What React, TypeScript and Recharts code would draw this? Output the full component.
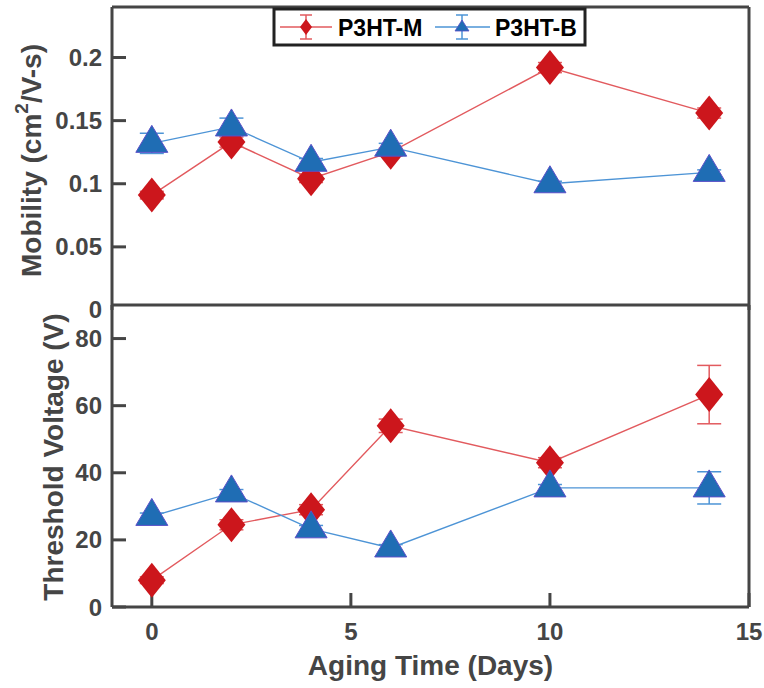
import { ComposedChart, Line, XAxis, YAxis, ErrorBar } from "recharts";

const days = [0, 2, 4, 6, 10, 14];
const mobilityM = [0.091, 0.133, 0.104, 0.125, 0.192, 0.156];
const mobilityMErr = [0.003, 0.004, 0.003, 0.003, 0.004, 0.004];
const mobilityB = [0.132, 0.145, 0.117, 0.129, 0.1, 0.109];
const mobilityBErr = [0.008, 0.007, 0.003, 0.003, 0.002, 0.002];
const vthM = [8, 24.5, 29, 54, 43, 63.3];
const vthMErr = [1, 1.5, 1.5, 2, 1.5, 8.7];
const vthB = [27, 34, 23.3, 17.6, 35.5, 35.5];
const vthBErr = [1, 1, 1, 1, 1, 4.8];

const xTicks = [0, 5, 10, 15];
const mobilityTicks = [0, 0.05, 0.1, 0.15, 0.2];
const vthTicks = [0, 20, 40, 60, 80];

const topData = days.map((d, i) => ({
  day: d,
  m: mobilityM[i],
  mErr: mobilityMErr[i],
  b: mobilityB[i],
  bErr: mobilityBErr[i],
}));
const bottomData = days.map((d, i) => ({
  day: d,
  m: vthM[i],
  mErr: vthMErr[i],
  b: vthB[i],
  bErr: vthBErr[i],
}));

const FONT = "'Liberation Sans', Arial, sans-serif";
const AXIS = "#454545";
const RED = "#cc161c";
const RED_LINE = "#e25a5e";
const BLUE = "#1f6db4";
const BLUE_LINE = "#4d94d6";
const tickStyle = { fill: "#454545", fontSize: 24, fontWeight: 700, fontFamily: FONT };

const diamond = (props: any) => {
  const { cx, cy, index } = props;
  if (cx == null || cy == null) return <g key={`d${index}`} />;
  return (
    <path
      key={`d${index}`}
      d={`M${cx},${cy - 17.5}L${cx + 14},${cy}L${cx},${cy + 17.5}L${cx - 14},${cy}Z`}
      fill={RED}
    />
  );
};

const triangle = (props: any) => {
  const { cx, cy, index } = props;
  if (cx == null || cy == null) return <g key={`t${index}`} />;
  return (
    <path
      key={`t${index}`}
      d={`M${cx},${cy - 18}L${cx + 16},${cy + 9}L${cx - 16},${cy + 9}Z`}
      fill={BLUE}
      stroke="#5a4fc8"
      strokeWidth={1}
    />
  );
};

// left tick of the top panel: no tick mark at 0 (hidden under lower panel)
const MobilityTick = (props: any) => {
  const { x, y, payload } = props;
  const v = payload.value;
  return (
    <g>
      {v !== 0 && <line x1={x + 10} x2={x + 24} y1={y} y2={y} stroke={AXIS} strokeWidth={3} />}
      <text x={x} y={y} dy={8} textAnchor="end" {...tickStyle}>
        {v === 0 ? "0" : String(v)}
      </text>
    </g>
  );
};

const MobilityLabel = (props: any) => {
  const { viewBox } = props;
  const cy = viewBox.y + viewBox.height / 2 + 2;
  const cx = 31;
  return (
    <text
      x={cx}
      y={cy}
      transform={`rotate(-90 ${cx} ${cy})`}
      textAnchor="middle"
      dominantBaseline="central"
      fill="#454545"
      fontSize={28}
      fontWeight={700}
      fontFamily={FONT}
    >
      Mobility (cm<tspan fontSize={19} dy={-10}>2</tspan>
      <tspan dy={10}>/V-s)</tspan>
    </text>
  );
};

const VthLabel = (props: any) => {
  const { viewBox } = props;
  const cy = viewBox.y + viewBox.height / 2 + 1;
  const cx = 53;
  return (
    <text
      x={cx}
      y={cy}
      transform={`rotate(-90 ${cx} ${cy})`}
      textAnchor="middle"
      dominantBaseline="central"
      fill="#454545"
      fontSize={28}
      fontWeight={700}
      fontFamily={FONT}
    >
      Threshold Voltage (V)
    </text>
  );
};

function Legend() {
  return (
    <svg
      width={764}
      height={60}
      style={{ position: "absolute", left: 0, top: 0, pointerEvents: "none" }}
    >
      <rect x={274} y={9} width={311} height={36} fill="#fff" stroke="#222" strokeWidth={3} />
      <line x1={280} x2={332} y1={27} y2={27} stroke={RED_LINE} strokeWidth={1.5} />
      <line x1={306} x2={306} y1={15} y2={39} stroke={RED_LINE} strokeWidth={1.5} />
      <line x1={300} x2={312} y1={15} y2={15} stroke={RED_LINE} strokeWidth={1.5} />
      <line x1={300} x2={312} y1={39} y2={39} stroke={RED_LINE} strokeWidth={1.5} />
      <path d="M306,19L312,27L306,35L300,27Z" fill={RED} />
      <text x={338} y={36} fontSize={23} fontWeight={700} fontFamily={FONT} fill="#000">
        P3HT-M
      </text>
      <line x1={435} x2={490} y1={27} y2={27} stroke={BLUE_LINE} strokeWidth={1.5} />
      <line x1={462} x2={462} y1={15} y2={39} stroke={BLUE_LINE} strokeWidth={1.5} />
      <line x1={456} x2={468} y1={15} y2={15} stroke={BLUE_LINE} strokeWidth={1.5} />
      <line x1={456} x2={468} y1={39} y2={39} stroke={BLUE_LINE} strokeWidth={1.5} />
      <path d="M462,20L469,31L455,31Z" fill={BLUE} stroke="#5a4fc8" strokeWidth={0.8} />
      <text x={495} y={36} fontSize={23} fontWeight={700} fontFamily={FONT} fill="#000">
        P3HT-B
      </text>
    </svg>
  );
}

export default function App() {
  return (
    <div
      style={{
        position: "absolute",
        left: 0,
        top: 0,
        width: 764,
        height: 688,
        background: "#fff",
        overflow: "hidden",
      }}
    >
      <div style={{ position: "absolute", left: 0, top: 0 }}>
        <ComposedChart
          width={764}
          height={330}
          data={topData}
          margin={{ top: 6, right: 14, bottom: 20, left: 0 }}
        >
          <XAxis
            xAxisId="t"
            orientation="top"
            type="number"
            dataKey="day"
            domain={[-1, 15]}
            ticks={xTicks}
            allowDataOverflow
            height={1}
            tick={false}
            tickLine={false}
            stroke={AXIS}
            axisLine={{ strokeWidth: 3 }}
          />
          <YAxis
            yAxisId="l"
            type="number"
            domain={[0, 0.24]}
            ticks={mobilityTicks}
            allowDataOverflow
            width={112}
            tickSize={-14}
            tickMargin={24}
            tickLine={false}
            tick={<MobilityTick />}
            stroke={AXIS}
            axisLine={{ strokeWidth: 3 }}
            label={<MobilityLabel />}
          />
          <YAxis
            yAxisId="r"
            orientation="right"
            type="number"
            domain={[0, 0.24]}
            ticks={[0.05, 0.1, 0.15, 0.2]}
            allowDataOverflow
            width={1}
            tickSize={-14}
            tick={false}
            stroke={AXIS}
            tickLine={{ strokeWidth: 3 }}
            axisLine={{ strokeWidth: 3 }}
          />
          <Line
            xAxisId="t"
            yAxisId="l"
            dataKey="m"
            stroke={RED_LINE}
            strokeWidth={1.4}
            dot={diamond}
            activeDot={false}
            isAnimationActive={false}
          >
            <ErrorBar dataKey="mErr" width={12} stroke={RED_LINE} strokeWidth={1.5} isAnimationActive={false} />
          </Line>
          <Line
            xAxisId="t"
            yAxisId="l"
            dataKey="b"
            stroke={BLUE_LINE}
            strokeWidth={1.4}
            dot={triangle}
            activeDot={false}
            isAnimationActive={false}
          >
            <ErrorBar dataKey="bErr" width={12} stroke={BLUE_LINE} strokeWidth={1.5} isAnimationActive={false} />
          </Line>
        </ComposedChart>
      </div>
      <div style={{ position: "absolute", left: 0, top: 0 }}>
        <ComposedChart
          width={764}
          height={688}
          data={bottomData}
          margin={{ top: 304, right: 14, bottom: 0, left: 0 }}
        >
          <XAxis
            xAxisId="t"
            orientation="top"
            type="number"
            dataKey="day"
            domain={[-1, 15]}
            ticks={xTicks}
            allowDataOverflow
            height={1}
            tick={false}
            tickSize={-14}
            stroke={AXIS}
            tickLine={{ strokeWidth: 3 }}
            axisLine={{ strokeWidth: 3 }}
          />
          <XAxis
            xAxisId="b"
            orientation="bottom"
            type="number"
            dataKey="day"
            domain={[-1, 15]}
            ticks={xTicks}
            allowDataOverflow
            height={81}
            tickSize={-14}
            tickMargin={30}
            tick={tickStyle}
            stroke={AXIS}
            tickLine={{ strokeWidth: 3 }}
            axisLine={{ strokeWidth: 3 }}
            label={{
              value: "Aging Time (Days)",
              position: "insideBottom",
              offset: 13,
              fill: "#454545",
              fontSize: 28,
              fontWeight: 700,
              fontFamily: FONT,
            }}
          />
          <YAxis
            yAxisId="l"
            type="number"
            domain={[0, 90]}
            ticks={vthTicks}
            allowDataOverflow
            width={112}
            tickSize={-14}
            tickMargin={24}
            tick={tickStyle}
            stroke={AXIS}
            tickLine={{ strokeWidth: 3 }}
            axisLine={{ strokeWidth: 3 }}
            label={<VthLabel />}
          />
          <YAxis
            yAxisId="r"
            orientation="right"
            type="number"
            domain={[0, 90]}
            ticks={[20, 40, 60, 80]}
            allowDataOverflow
            width={1}
            tickSize={-14}
            tick={false}
            stroke={AXIS}
            tickLine={{ strokeWidth: 3 }}
            axisLine={{ strokeWidth: 3 }}
          />
          <Line
            xAxisId="b"
            yAxisId="l"
            dataKey="m"
            stroke={RED_LINE}
            strokeWidth={1.4}
            dot={diamond}
            activeDot={false}
            isAnimationActive={false}
          >
            <ErrorBar dataKey="mErr" width={12} stroke={RED_LINE} strokeWidth={1.5} isAnimationActive={false} />
          </Line>
          <Line
            xAxisId="b"
            yAxisId="l"
            dataKey="b"
            stroke={BLUE_LINE}
            strokeWidth={1.4}
            dot={triangle}
            activeDot={false}
            isAnimationActive={false}
          >
            <ErrorBar dataKey="bErr" width={12} stroke={BLUE_LINE} strokeWidth={1.5} isAnimationActive={false} />
          </Line>
        </ComposedChart>
      </div>
      <Legend />
    </div>
  );
}
